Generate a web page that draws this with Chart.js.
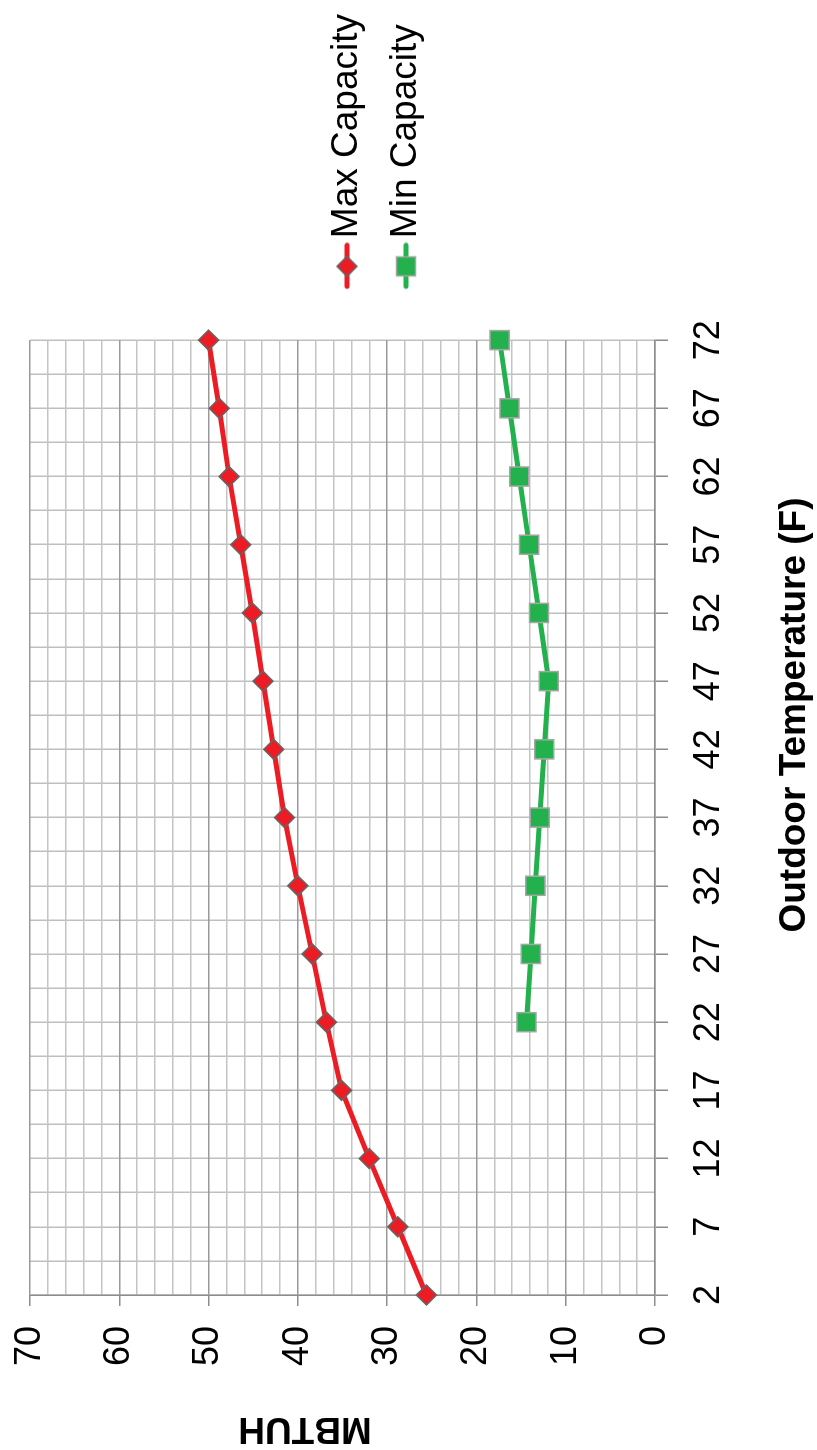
<!DOCTYPE html>
<html lang="en">
<head>
  <meta charset="UTF-8" />
  <title>Capacity vs Outdoor Temperature</title>
  <script src="https://cdn.jsdelivr.net/npm/chart.js@4.4.0/dist/chart.umd.min.js"></script>
  <style>
    html, body {
      margin: 0;
      padding: 0;
      background: #fff;
      overflow: hidden;
    }
    body {
      width: 817px;
      height: 1450px;
      position: relative;
    }
    /* the chart is laid out landscape and turned a quarter turn */
    .chart-wrap {
      position: absolute;
      left: 0;
      top: 0;
      width: 1450px;
      height: 817px;
      transform-origin: 0 0;
      transform: translate(0, 1450px) rotate(-90deg);
    }
  </style>
</head>
<body>
  <div class="chart-wrap">
    <canvas id="capChart" width="1450" height="817"></canvas>
  </div>

  <script>
    // data
    const temps = [2, 7, 12, 17, 22, 27, 32, 37, 42, 47, 52, 57, 62, 67, 72];
    const maxCapacity = [25.6, 28.8, 32.0, 35.1, 36.8, 38.4, 40.0, 41.5, 42.7, 43.9, 45.1, 46.4, 47.7, 48.8, 50.0];
    const minCapacity = [null, null, null, null, 14.4, 13.9, 13.4, 12.9, 12.4, 11.9, 13.0, 14.1, 15.2, 16.3, 17.4];
    const mbtuhLabels = [0, 10, 20, 30, 40, 50, 60, 70];
    const seriesNames = ['Max Capacity', 'Min Capacity'];
    const xTitle = 'Outdoor Temperature (F)';
    const yTitle = 'MBTUH';

    const RED = '#ed1c24';
    const GREEN = '#22b14c';
    const FONT = '"Liberation Sans", Arial, sans-serif';

    Chart.defaults.font.family = FONT;
    Chart.defaults.color = '#000';

    function toPoints(values) {
      return temps.map((t, i) => ({ x: t, y: values[i] })).filter(p => p.y !== null);
    }

    // legend swatch: short line with the marker on it
    function legendSwatch(color, shape, edge) {
      const c = document.createElement('canvas');
      c.width = 90;
      c.height = 40;
      const g = c.getContext('2d');
      g.strokeStyle = color;
      g.lineWidth = 5;
      g.lineCap = 'round';
      g.beginPath();
      g.moveTo(46, 20);
      g.lineTo(87, 20);
      g.stroke();
      g.fillStyle = color;
      g.strokeStyle = edge;
      g.lineWidth = 1.5;
      const cx = 66, cy = 20;
      g.beginPath();
      if (shape === 'diamond') {
        g.moveTo(cx, cy - 10);
        g.lineTo(cx + 10, cy);
        g.lineTo(cx, cy + 10);
        g.lineTo(cx - 10, cy);
        g.closePath();
      } else {
        g.rect(cx - 9.5, cy - 9.5, 19, 19);
      }
      g.fill();
      g.stroke();
      return c;
    }
    const swatches = [legendSwatch(RED, 'diamond', '#666'), legendSwatch(GREEN, 'square', '#a6a6a6')];

    // axis titles sit off-centre in the reference, so they are placed by hand
    const axisTitles = {
      id: 'axisTitles',
      afterDraw(chart) {
        const { ctx, chartArea } = chart;
        ctx.save();
        ctx.font = 'bold 37px ' + FONT;
        ctx.fillStyle = '#000';
        ctx.textAlign = 'center';
        ctx.textBaseline = 'middle';
        ctx.fillText(xTitle, chartArea.left + 580, chartArea.bottom + 140);
        ctx.translate(chartArea.left - 133, chartArea.top + 275);
        ctx.rotate(-Math.PI / 2);
        ctx.fillText(yTitle, 0, 0);
        ctx.restore();
      }
    };

    const ctx = document.getElementById('capChart').getContext('2d');
    const capChart = new Chart(ctx, {
      type: 'line',
      data: {
        datasets: [
          {
            label: seriesNames[0],
            data: toPoints(maxCapacity),
            borderColor: RED,
            backgroundColor: RED,
            borderWidth: 5,
            pointStyle: 'rectRot',
            pointRadius: 10,
            pointBackgroundColor: RED,
            pointBorderColor: '#666',
            pointBorderWidth: 1.5,
            tension: 0,
            clip: false
          },
          {
            label: seriesNames[1],
            data: toPoints(minCapacity),
            borderColor: GREEN,
            backgroundColor: GREEN,
            borderWidth: 5,
            pointStyle: 'rect',
            pointRadius: 13.5,
            pointBackgroundColor: GREEN,
            pointBorderColor: '#a6a6a6',
            pointBorderWidth: 1.5,
            tension: 0,
            clip: false
          }
        ]
      },
      options: {
        responsive: false,
        devicePixelRatio: 1,
        animation: false,
        layout: { padding: { top: 30, right: 4, bottom: 0, left: 0 } },
        plugins: {
          tooltip: { enabled: false },
          legend: {
            position: 'right',
            fullSize: false,
            align: 'center',
            title: { display: true, text: ' ', font: { size: 12, lineHeight: 1 }, padding: 28 },
            labels: {
              usePointStyle: true,
              pointStyleWidth: 61.5,
              padding: 22,
              color: '#000',
              font: { size: 37 },
              generateLabels(chart) {
                const items = Chart.defaults.plugins.legend.labels.generateLabels(chart);
                items.forEach((item, i) => { item.pointStyle = swatches[i]; });
                return items;
              }
            }
          }
        },
        scales: {
          x: {
            type: 'linear',
            min: temps[0],
            max: temps[temps.length - 1],
            afterFit(scale) { scale.height = 162; },
            afterBuildTicks(scale) {
              const ticks = [];
              temps.forEach((t, i) => {
                ticks.push({ value: t });
                if (i < temps.length - 1) ticks.push({ value: (t + temps[i + 1]) / 2 });
              });
              scale.ticks = ticks;
            },
            ticks: {
              autoSkip: false,
              maxRotation: 0,
              minRotation: 0,
              padding: 19,
              font: { size: 36 },
              color: '#000',
              callback: value => temps.includes(value) ? String(value) : ''
            },
            grid: {
              color: '#bfbfbf',
              lineWidth: 1.5,
              tickLength: 13,
              tickColor: c => temps.includes(c.tick.value) ? '#8c8c8c' : 'rgba(0,0,0,0)'
            },
            border: { color: '#8c8c8c', width: 1.5 }
          },
          y: {
            type: 'linear',
            min: mbtuhLabels[0],
            max: mbtuhLabels[mbtuhLabels.length - 1],
            afterFit(scale) {
              scale.width = 155;
              scale.paddingTop = 0;
              scale.paddingBottom = 0;
            },
            afterBuildTicks(scale) {
              const ticks = [];
              for (let v = scale.min; v <= scale.max; v += 2) ticks.push({ value: v });
              scale.ticks = ticks;
            },
            ticks: {
              autoSkip: false,
              padding: 20,
              font: { size: 36 },
              color: '#000',
              callback: value => mbtuhLabels.includes(value) ? String(value) : ''
            },
            grid: {
              color: c => mbtuhLabels.includes(c.tick.value) ? '#999' : '#c4c4c4',
              lineWidth: 1.5,
              tickLength: 11,
              tickColor: c => mbtuhLabels.includes(c.tick.value) ? '#8c8c8c' : 'rgba(0,0,0,0)'
            },
            border: { color: '#8c8c8c', width: 1.5 }
          }
        }
      },
      plugins: [axisTitles]
    });
  </script>
</body>
</html>
